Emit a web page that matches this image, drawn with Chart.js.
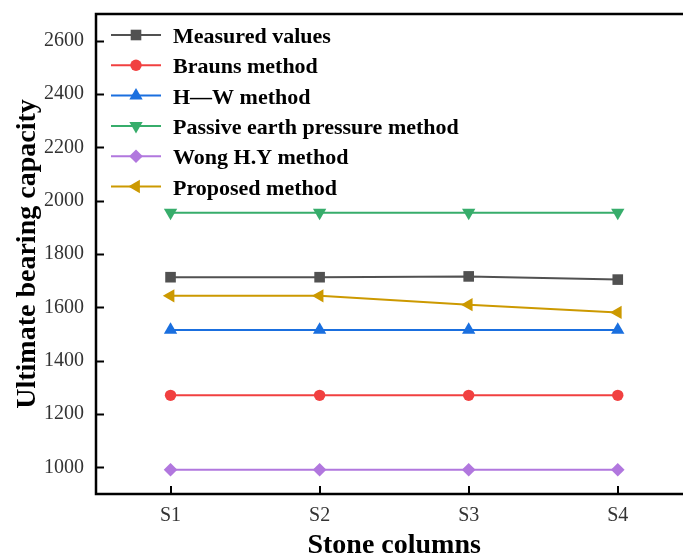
<!DOCTYPE html>
<html lang="en">
<head>
<meta charset="UTF-8">
<title>Ultimate bearing capacity of stone columns</title>
<script src="https://cdn.jsdelivr.net/npm/chart.js"></script>
<style>
  html, body { margin: 0; padding: 0; background: #fff; overflow: hidden; }
  #wrap { width: 683px; height: 560px; overflow: hidden; }
</style>
</head>
<body>
<div id="wrap"><canvas id="chart" width="700" height="560"></canvas></div>
<script>
// values
const columns  = ['S1', 'S2', 'S3', 'S4'];
const measured = [1713, 1713, 1716, 1704];
const brauns   = [1270, 1270, 1270, 1270];
const hw       = [1515, 1515, 1515, 1515];
const passive  = [1955, 1955, 1955, 1955];
const wong     = [991, 991, 991, 991];
const proposed = [1643, 1643, 1610, 1581];
const yTicks   = [1000, 1200, 1400, 1600, 1800, 2000, 2200, 2400, 2600];

const serif = '"Liberation Serif", "Times New Roman", serif';

function series(label, data, color, style, radius, rotation) {
    return {
        label: label,
        data: data,
        borderColor: color,
        backgroundColor: color,
        pointBackgroundColor: color,
        pointBorderColor: color,
        borderWidth: 2,
        pointBorderWidth: 0,
        pointStyle: style,
        pointRadius: radius,
        pointRotation: rotation || 0,
        tension: 0,
        clip: false
    };
}

// box round the plot + inward tick marks
const frame = {
    id: 'frame',
    beforeDatasetsDraw(chart) {
        const { ctx, chartArea: a, scales } = chart;
        ctx.save();
        ctx.strokeStyle = '#000';
        ctx.lineWidth = 2;
        scales.y.ticks.forEach((t, i) => {
            const y = Math.round(scales.y.getPixelForTick(i)) + 0.5;
            ctx.beginPath();
            ctx.moveTo(a.left, y);
            ctx.lineTo(a.left + 8, y);
            ctx.stroke();
        });
        scales.x.ticks.forEach((t, i) => {
            const x = Math.round(scales.x.getPixelForTick(i));
            ctx.beginPath();
            ctx.moveTo(x, a.bottom);
            ctx.lineTo(x, a.bottom - 8);
            ctx.stroke();
        });
        ctx.lineWidth = 2.5;
        ctx.strokeRect(a.left, a.top, a.right - a.left, a.bottom - a.top);
        ctx.restore();
    }
};

// legend inside the plot, line + marker like the original
const insideLegend = {
    id: 'insideLegend',
    afterDraw(chart) {
        const ctx = chart.ctx;
        ctx.save();
        chart.data.datasets.forEach((ds, i) => {
            const y = 35 + i * 30.3;
            ctx.strokeStyle = ds.borderColor;
            ctx.fillStyle = ds.backgroundColor;
            ctx.lineWidth = 2;
            ctx.beginPath();
            ctx.moveTo(111, y);
            ctx.lineTo(161, y);
            ctx.stroke();
            Chart.helpers.drawPoint(ctx, {
                pointStyle: ds.pointStyle,
                radius: ds.pointRadius,
                rotation: ds.pointRotation,
                borderWidth: 0
            }, 136, y);
            ctx.fillStyle = '#000';
            ctx.font = 'bold 22px ' + serif;
            ctx.textBaseline = 'alphabetic';
            ctx.textAlign = 'left';
            ctx.fillText(ds.label, 173, y + 8);
        });
        ctx.restore();
    }
};

new Chart(document.getElementById('chart'), {
    type: 'line',
    data: {
        labels: columns,
        datasets: [
            series('Measured values', measured, '#515151', 'rect', 7.5),
            series('Brauns method', brauns, '#F14040', 'circle', 5.7),
            series('H\u2014W method', hw, '#1A6FDF', 'triangle', 7.7),
            series('Passive earth pressure method', passive, '#37AD6B', 'triangle', 7.7, 180),
            series('Wong H.Y method', wong, '#B177DE', 'rectRot', 6.8),
            series('Proposed method', proposed, '#CC9900', 'triangle', 7.7, 270)
        ]
    },
    options: {
        responsive: false,
        animation: false,
        devicePixelRatio: 1,
        layout: { padding: { left: 0, top: 14, right: 7, bottom: 0 } },
        plugins: {
            legend: { display: false },
            tooltip: { enabled: false }
        },
        scales: {
            x: {
                type: 'category',
                offset: true,
                grid: { display: false, drawTicks: false },
                border: { display: false },
                ticks: {
                    color: '#333',
                    padding: 10,
                    font: { family: serif, size: 20 }
                },
                title: {
                    display: true,
                    text: 'Stone columns',
                    color: '#000',
                    font: { family: serif, size: 28, weight: 'bold', lineHeight: 1 },
                    padding: { top: 0, bottom: 0 }
                },
                afterFit(s) {
                    s.height = 66;
                    s.paddingLeft = 0;
                    s.paddingRight = 0;
                }
            },
            y: {
                min: 900,
                max: 2700,
                afterBuildTicks(s) { s.ticks = yTicks.map(v => ({ value: v })); },
                grid: { display: false, drawTicks: false },
                border: { display: false },
                ticks: {
                    color: '#333',
                    padding: 12,
                    font: { family: serif, size: 20 },
                    callback: v => String(v)
                },
                title: {
                    display: true,
                    text: 'Ultimate bearing capacity',
                    color: '#000',
                    font: { family: serif, size: 28, weight: 'bold', lineHeight: 1 },
                    padding: { top: 14, bottom: 0 }
                },
                afterFit(s) {
                    s.width = 96;
                    s.paddingTop = 0;
                    s.paddingBottom = 0;
                }
            }
        }
    },
    plugins: [frame, insideLegend]
});
</script>
</body>
</html>
